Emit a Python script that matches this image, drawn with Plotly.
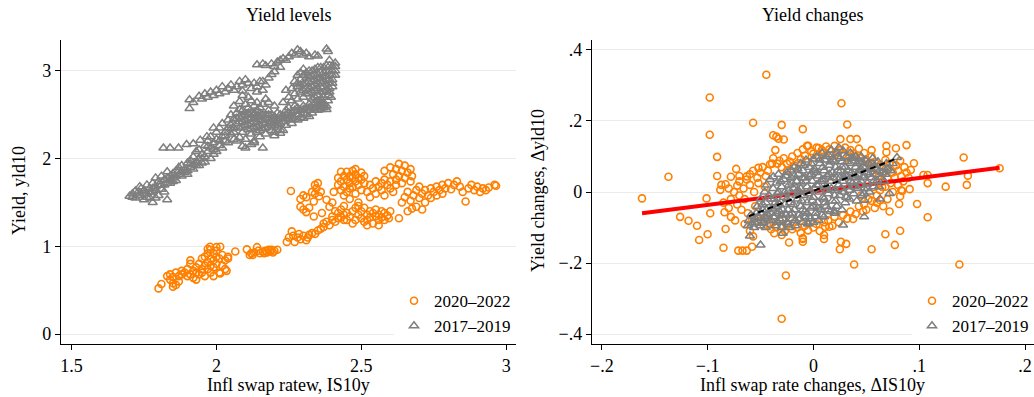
import plotly.graph_objects as go

# ---------------- Data ----------------
# Left panel: yield level vs inflation swap rate
levels_2017_2019 = [
    (1.70,1.57),(1.71,1.60),(1.72,1.55),(1.73,1.62),(1.735,1.68),(1.74,1.58),(1.75,1.64),(1.75,1.53),
    (1.76,1.70),(1.76,1.60),(1.77,1.66),(1.77,1.55),(1.78,1.72),(1.78,1.62),(1.79,1.78),(1.79,1.68),
    (1.80,1.58),(1.80,1.74),(1.81,1.65),(1.81,1.80),(1.82,1.70),(1.82,1.76),(1.83,1.85),(1.83,1.53),
    (1.83,1.72),(1.84,1.80),(1.84,1.76),(1.85,1.83),(1.85,1.78),(1.86,1.86),(1.86,1.80),(1.87,1.90),
    (1.87,1.82),(1.88,1.85),(1.88,1.92),(1.89,1.88),(1.90,1.95),(1.90,1.86),(1.91,1.90),(1.91,1.98),
    (1.92,1.93),(1.92,2.02),(1.93,1.96),(1.93,2.08),(1.94,2.00),(1.94,2.10),(1.95,2.05),(1.95,1.95),
    (1.96,2.15),(1.96,2.02),(1.97,2.20),(1.97,2.08),(1.98,2.12),(1.98,2.25),(1.99,2.05),(1.99,2.18),
    (2.00,2.22),(2.00,2.30),(2.01,2.15),(2.01,2.35),(2.02,2.25),(2.02,2.40),(2.03,2.30),(2.03,2.20),
    (2.04,2.44),(2.04,2.35),(2.05,2.50),(2.05,2.28),(1.78,1.50),(1.79,1.55),
    (1.72,1.63),(1.74,1.66),(1.76,1.56),(1.78,1.66),(1.80,1.70),(1.82,1.62),(1.84,1.72),(1.86,1.75),
    (1.88,1.80),(1.90,1.82),(1.92,1.88),(1.94,1.92),(1.96,1.96),(1.98,2.00),(2.00,2.08),(2.02,2.12),
    (2.04,2.18),(2.06,2.22),
    (1.71,1.56),(1.73,1.58),(1.75,1.60),(1.77,1.62),(1.79,1.64),(1.81,1.70),(1.83,1.78),(1.85,1.74),
    (1.87,1.86),(1.89,1.84),(1.91,1.94),(1.93,1.92),(1.95,2.00),(1.97,2.14),(1.99,2.10),(2.01,2.20),
    (2.03,2.26),(2.05,2.34),
    (1.817,2.12),(1.84,2.12),(1.869,2.12),(1.897,2.16),(1.92,2.17),(1.944,2.21),(1.967,2.25),(1.99,2.35),
    (2.05,2.38),(2.06,2.45),(2.06,2.30),(2.07,2.52),(2.07,2.40),(2.08,2.35),(2.08,2.48),(2.08,2.56),
    (2.09,2.42),(2.09,2.30),(2.10,2.50),(2.10,2.38),(2.10,2.22),(2.11,2.45),(2.11,2.33),(2.11,2.58),
    (2.12,2.40),(2.12,2.28),(2.12,2.52),(2.13,2.36),(2.13,2.46),(2.13,2.18),(2.14,2.42),(2.14,2.30),
    (2.14,2.55),(2.15,2.38),(2.15,2.48),(2.15,2.25),(2.16,2.44),(2.16,2.34),(2.16,2.12),(2.17,2.40),
    (2.17,2.50),(2.17,2.28),(2.18,2.45),(2.18,2.36),(2.18,2.55),(2.19,2.42),(2.19,2.32),(2.20,2.48),
    (2.20,2.38),(2.20,2.26),(2.21,2.44),(2.21,2.52),(2.22,2.40),(2.22,2.33),(2.23,2.48),(2.23,2.42),
    (2.24,2.55),(2.24,2.38),(2.25,2.45),(2.25,2.52),(2.26,2.48),(2.26,2.40),(2.27,2.55),(2.27,2.45),
    (2.28,2.50),(2.28,2.58),(2.29,2.47),(2.29,2.55),(2.30,2.52),(2.30,2.60),(2.31,2.50),(2.31,2.58),
    (2.32,2.55),(2.32,2.62),(2.33,2.52),(2.34,2.58),(2.35,2.60),(2.36,2.56),(2.36,2.62),(2.37,2.58),
    (2.38,2.60),(2.09,2.14),(2.10,2.12),(2.12,2.16),(2.13,2.20),(2.07,2.20),(2.08,2.24),(2.20,2.30),
    (2.22,2.29),(2.23,2.32),(2.21,2.36),(2.24,2.46),(2.26,2.52),(2.28,2.44),(2.30,2.46),(2.32,2.48),
    (2.33,2.58),(2.35,2.55),(2.36,2.59),(2.25,2.58),(2.27,2.60),
    (2.15,2.32),(2.17,2.35),(2.19,2.50),(2.22,2.46),(2.24,2.50),(2.09,2.55),(2.11,2.52),(2.13,2.50),
    (2.15,2.52),
    (2.06,2.35),(2.07,2.46),(2.08,2.42),(2.09,2.36),(2.09,2.48),(2.10,2.44),(2.11,2.39),(2.11,2.50),
    (2.12,2.46),(2.12,2.34),(2.13,2.42),(2.13,2.52),(2.14,2.48),(2.14,2.36),(2.15,2.44),(2.16,2.40),
    (2.16,2.50),(2.17,2.46),(2.18,2.40),(2.18,2.50),(2.19,2.46),(2.19,2.38),(2.20,2.44),(2.21,2.40),
    (2.22,2.50),(2.23,2.45),(2.25,2.48),(2.26,2.44),(2.28,2.54),(2.30,2.56),(2.32,2.58),(2.34,2.55),
    (2.06,2.60),(2.08,2.65),(2.10,2.62),(2.11,2.70),(2.12,2.66),(2.13,2.60),(2.09,2.72),(2.14,2.64),
    (2.15,2.58),(2.16,2.62),(2.17,2.68),(2.18,2.64),(2.20,2.60),(2.09,2.77),
    (1.907,2.57),(1.907,2.67),(1.92,2.64),(1.94,2.71),(1.95,2.68),(1.96,2.74),(1.97,2.70),(1.98,2.76),
    (1.99,2.72),(2.00,2.78),(2.01,2.74),(2.02,2.82),(2.03,2.76),(2.04,2.80),(2.05,2.84),(2.06,2.78),
    (2.07,2.82),(2.08,2.88),(2.09,2.84),(2.10,2.90),(2.11,2.86),(2.12,2.80),(2.13,2.86),(2.14,2.82),
    (2.15,2.88),(2.16,2.88),(2.17,2.84),(2.18,2.92),(2.19,2.96),(2.20,2.99),(2.14,2.76),(2.16,2.78),
    (2.14,3.07),(2.16,3.08),(2.17,3.06),(2.19,3.08),(2.21,3.10),(2.22,3.12),(2.23,3.14),(2.24,3.12),
    (2.25,3.16),(2.26,3.20),(2.27,3.18),(2.28,3.24),(2.29,3.22),(2.30,3.18),(2.31,3.20),(2.32,3.16),
    (2.34,3.18),(2.35,3.17),(2.38,3.25),(2.385,3.22),(2.39,3.12),(2.20,3.05),(2.22,3.04),
    (2.27,2.88),(2.28,2.95),(2.28,2.82),(2.29,2.90),(2.29,2.76),(2.30,2.85),(2.30,2.95),(2.30,2.70),
    (2.31,2.80),(2.31,2.92),(2.32,2.88),(2.32,2.74),(2.32,3.00),(2.33,2.82),(2.33,2.94),(2.33,2.68),
    (2.34,2.90),(2.34,2.78),(2.34,3.02),(2.35,2.86),(2.35,2.96),(2.35,2.72),(2.36,2.92),(2.36,2.82),
    (2.36,3.04),(2.37,2.88),(2.37,2.98),(2.37,2.76),(2.38,2.94),(2.38,2.85),(2.38,3.06),(2.39,2.90),
    (2.39,3.00),(2.39,2.80),(2.40,2.95),(2.40,3.05),(2.40,2.86),(2.41,3.00),(2.41,3.09),(2.395,2.70),
    (2.385,2.66),(2.23,2.64),(2.25,2.70),(2.26,2.66),(2.27,2.74),(2.24,2.78),(2.26,2.80),(2.28,2.68),
    (2.37,2.62),(2.38,2.56),(2.36,2.64),
    (2.28,2.86),(2.29,2.98),(2.29,2.84),(2.30,2.78),(2.30,3.02),(2.31,2.86),(2.31,2.74),(2.31,2.98),
    (2.32,2.94),(2.32,2.80),(2.33,2.88),(2.33,3.00),(2.33,2.76),(2.34,2.84),(2.34,2.96),(2.34,2.70),
    (2.35,2.80),(2.35,2.92),(2.35,3.04),(2.36,2.88),(2.36,2.76),(2.36,2.98),(2.37,2.82),(2.37,2.94),
    (2.37,3.04),(2.38,2.90),(2.38,2.78),(2.38,3.00),(2.39,2.86),(2.39,2.96),(2.39,3.06),(2.40,2.90),
    (2.40,3.00),(2.40,2.82),(2.41,2.95),(2.41,3.05),(2.385,2.72),(2.39,2.76),(2.37,2.70),(2.36,2.68),
    (2.35,2.66),(2.34,2.64),
]

levels_2020_2022 = [
    (1.80,0.52),(1.81,0.57),(1.83,0.66),(1.84,0.62),(1.84,0.68),(1.85,0.58),(1.85,0.54),(1.85,0.65),
    (1.86,0.56),(1.86,0.70),(1.87,0.66),(1.88,0.68),(1.88,0.72),(1.89,0.70),(1.90,0.66),(1.90,0.74),
    (1.91,0.68),(1.91,0.80),(1.91,0.84),(1.92,0.72),(1.92,0.64),(1.93,0.70),(1.93,0.76),(1.94,0.68),
    (1.94,0.80),(1.95,0.74),(1.95,0.86),(1.95,0.70),(1.96,0.78),(1.96,0.88),(1.96,0.66),(1.97,0.82),
    (1.97,0.92),(1.97,0.74),(1.97,0.97),(1.98,0.86),(1.98,0.78),(1.98,0.70),(1.99,0.84),(1.99,0.92),
    (1.99,0.76),(2.00,0.88),(2.00,0.80),(2.00,0.99),(2.00,0.95),(2.01,0.86),(2.01,0.70),(2.02,0.90),
    (2.02,0.78),(2.03,0.84),(2.03,0.74),(2.04,0.86),(2.035,0.72),(1.98,0.96),(1.99,0.66),(1.93,0.62),
    (1.87,0.60),(1.978,0.995),(2.013,0.995),(2.04,0.88),(2.013,0.69),
    (2.065,0.94),(2.105,0.965),(2.115,0.90),(2.12,0.92),(2.13,0.93),(2.14,0.99),(2.145,0.95),(2.15,0.92),
    (2.16,0.94),(2.165,0.92),(2.17,0.95),(2.175,0.93),(2.18,0.96),(2.185,0.94),(2.19,0.96),(2.195,0.93),
    (2.20,0.95),(2.21,0.96),(2.125,0.90),
    (2.243,1.05),(2.25,1.10),(2.26,1.17),(2.265,1.12),(2.27,1.05),(2.28,1.10),(2.285,1.14),(2.29,1.08),
    (2.30,1.12),(2.31,1.07),(2.315,1.10),(2.32,1.13),(2.33,1.15),(2.34,1.14),(2.35,1.18),(2.36,1.20),
    (2.37,1.22),(2.37,1.26),(2.38,1.28),(2.39,1.24),(2.40,1.30),(2.40,1.34),(2.41,1.28),(2.42,1.32),
    (2.42,1.38),(2.43,1.33),(2.44,1.36),(2.44,1.30),
    (2.257,1.63),(2.29,1.54),(2.29,1.45),(2.30,1.42),(2.31,1.39),(2.32,1.44),(2.336,1.51),(2.336,1.34),
    (2.34,1.70),(2.354,1.57),(2.364,1.38),(2.345,1.66),(2.35,1.72),(2.36,1.62),(2.30,1.58),(2.31,1.56),
    (2.33,1.62),(2.34,1.60),(2.38,1.53),(2.405,1.62),(2.39,1.45),(2.41,1.40),(2.40,1.50),
    (2.42,1.70),(2.42,1.78),(2.43,1.74),(2.43,1.64),(2.44,1.80),(2.44,1.68),(2.44,1.58),(2.45,1.76),
    (2.45,1.85),(2.45,1.62),(2.46,1.72),(2.46,1.80),(2.46,1.54),(2.47,1.78),(2.47,1.68),(2.47,1.86),
    (2.48,1.74),(2.48,1.82),(2.48,1.60),(2.49,1.70),(2.49,1.78),(2.49,1.50),(2.50,1.76),(2.50,1.84),
    (2.50,1.64),(2.51,1.72),(2.51,1.80),(2.43,1.85),(2.46,1.66),(2.48,1.88),
    (2.43,1.42),(2.44,1.46),(2.45,1.38),(2.46,1.34),(2.47,1.40),(2.48,1.30),(2.48,1.44),(2.49,1.36),
    (2.50,1.32),(2.50,1.40),(2.51,1.28),(2.51,1.44),(2.52,1.36),(2.52,1.30),(2.53,1.40),(2.53,1.33),
    (2.54,1.38),(2.54,1.26),(2.55,1.34),(2.55,1.42),(2.56,1.36),(2.56,1.30),(2.57,1.40),(2.57,1.33),
    (2.58,1.38),(2.58,1.30),(2.59,1.35),(2.60,1.40),(2.595,1.32),(2.45,1.30),(2.47,1.26),(2.52,1.24),
    (2.49,1.46),(2.56,1.24),
    (2.52,1.62),(2.53,1.70),(2.54,1.66),(2.55,1.74),(2.55,1.60),(2.56,1.68),(2.57,1.72),(2.57,1.64),
    (2.58,1.76),(2.58,1.58),(2.59,1.70),(2.60,1.66),(2.60,1.74),(2.61,1.62),(2.62,1.70),(2.53,1.56),
    (2.58,1.86),(2.60,1.90),(2.61,1.82),(2.62,1.88),(2.63,1.94),(2.63,1.80),(2.64,1.86),(2.65,1.92),
    (2.65,1.78),(2.66,1.84),(2.67,1.88),(2.67,1.74),(2.675,1.80),(2.64,1.72),(2.62,1.76),
    (2.63,1.32),(2.675,1.43),(2.64,1.50),(2.65,1.56),(2.66,1.62),(2.67,1.52),(2.68,1.58),(2.69,1.64),
    (2.70,1.55),(2.70,1.68),(2.71,1.60),(2.72,1.64),(2.72,1.50),(2.73,1.58),(2.74,1.66),(2.74,1.55),
    (2.75,1.62),(2.76,1.68),(2.76,1.58),(2.77,1.64),(2.78,1.70),(2.78,1.60),(2.79,1.66),(2.80,1.72),
    (2.81,1.65),(2.82,1.70),(2.83,1.74),(2.84,1.68),(2.85,1.62),(2.86,1.51),(2.87,1.66),(2.88,1.70),
    (2.89,1.64),(2.90,1.68),(2.91,1.62),(2.92,1.66),(2.93,1.64),(2.94,1.67),(2.96,1.70),(2.965,1.69),
    (2.69,1.45),(2.66,1.40),(2.71,1.42),
]

# Right panel: yield changes vs inflation swap rate changes
changes_2020_2022 = [
    (-0.0445,0.330),(-0.098,0.266),(-0.057,0.195),(-0.030,0.189),(-0.010,0.177),(-0.098,0.161),
    (-0.035,0.156),(-0.033,0.150),(-0.038,0.160),(-0.028,0.148),(-0.036,0.118),(-0.091,0.099),
    (-0.137,0.043),(-0.091,0.045),(-0.073,0.065),(-0.078,0.043),(-0.070,0.045),(-0.063,0.044),
    (-0.088,0.006),(-0.083,0.022),(-0.162,-0.018),(-0.101,-0.018),(-0.005,0.130),(0.005,0.124),
    (-0.038,0.095),(-0.032,0.088),(-0.039,0.080),(-0.034,0.080),(-0.025,0.080),(-0.052,0.068),
    (-0.0145,0.081),(0.0265,0.250),(0.032,0.190),(0.0255,0.149),(0.035,0.149),(0.041,0.149),
    (0.088,0.132),(0.069,0.130),(0.078,0.123),(0.095,0.081),(0.142,0.097),(0.146,0.046),
    (0.145,0.020),(0.176,0.067),(0.108,0.025),(0.104,0.048),(0.108,0.048),(0.125,0.015),
    (0.091,0.008),(0.083,0.005),(0.055,0.118),(0.069,0.112),(-0.006,0.130),
    (-0.126,-0.070),(-0.118,-0.081),(-0.110,-0.095),(-0.108,-0.135),(-0.100,-0.119),(-0.0975,-0.060),
    (-0.085,-0.157),(-0.083,-0.104),(-0.084,-0.057),(-0.078,-0.070),(-0.074,-0.080),(-0.071,-0.165),
    (-0.067,-0.165),(-0.063,-0.165),(-0.058,-0.154),(-0.065,-0.090),(-0.060,-0.110),(-0.057,-0.125),
    (-0.026,-0.235),(-0.030,-0.357),(-0.023,-0.142),(-0.037,-0.116),(-0.030,-0.121),(-0.010,-0.130),
    (-0.010,-0.140),(-0.087,0.020),(-0.080,0.010),(-0.072,0.018),(-0.070,-0.010),
    (0.0385,-0.204),(0.138,-0.204),(0.055,-0.161),(0.077,-0.149),(0.082,-0.109),(0.068,-0.119),
    (0.108,-0.071),(0.098,-0.034),(0.084,0.003),(0.082,-0.012),(0.081,-0.034),(0.072,-0.055),
    (0.025,-0.161),(0.026,-0.140),(0.031,-0.146),(0.010,-0.121),(0.010,-0.132),(-0.010,-0.132),
    (0.011,-0.098),(0.015,-0.098),(0.0375,-0.076),(0.047,-0.055),(0.050,-0.050),(0.063,-0.023),
    (0.055,-0.025),(0.060,-0.030),(0.057,0.014),(0.065,0.014),
    (-0.085,-0.030),(-0.080,-0.045),(-0.078,-0.020),(-0.075,0.000),(-0.072,-0.035),(-0.070,0.030),
    (-0.068,-0.050),(-0.066,0.010),(-0.065,-0.020),(-0.063,0.035),(-0.062,-0.060),(-0.060,0.050),
    (-0.060,0.020),(-0.058,-0.075),(-0.057,0.060),(-0.056,0.000),(-0.055,-0.040),(-0.053,0.040),
    (-0.052,0.025),(-0.050,-0.080),(-0.050,0.055),(-0.048,0.070),(-0.047,-0.095),(-0.046,0.015),
    (-0.045,0.045),(-0.044,-0.065),(-0.043,0.060),(-0.042,-0.090),(-0.041,0.078),(-0.040,-0.105),
    (-0.030,0.070),(-0.028,0.095),(-0.025,0.060),(-0.022,0.085),(-0.020,0.100),(-0.018,0.075),
    (-0.015,0.110),(-0.012,0.092),(-0.010,0.120),(-0.008,0.102),(-0.005,0.085),(-0.002,0.115),
    (0.000,0.108),(0.003,0.125),(0.005,0.098),(0.008,0.118),(0.010,0.110),(0.012,0.128),
    (0.015,0.120),(0.018,0.102),(0.020,0.130),(0.022,0.112),(0.025,0.118),(0.028,0.105),
    (0.030,0.125),(0.033,0.095),(0.035,0.118),(0.038,0.108),(0.040,0.100),(0.043,0.122),
    (0.045,0.095),(0.048,0.110),(0.050,0.090),(0.052,0.080),(0.055,0.100),
    (0.055,0.070),(0.058,0.085),(0.060,0.060),(0.062,0.045),(0.063,0.075),(0.065,0.030),
    (0.066,0.055),(0.068,0.090),(0.068,0.015),(0.070,0.065),(0.070,0.040),(0.072,0.080),
    (0.073,0.025),(0.075,0.055),(0.075,0.000),(0.077,0.040),(0.078,0.075),(0.080,0.060),
    (0.080,0.020),(0.082,0.088),(0.083,0.045),(0.085,0.030),(0.086,0.070),(0.088,0.055),
    (0.090,0.040),(0.092,0.062),(0.060,-0.010),(0.063,0.005),(0.070,-0.020),(0.066,-0.040),
    (0.058,-0.045),
    (-0.038,-0.085),(-0.035,-0.100),(-0.032,-0.080),(-0.030,-0.095),(-0.027,-0.110),(-0.024,-0.090),
    (-0.020,-0.105),(-0.018,-0.085),(-0.015,-0.100),(-0.012,-0.115),(-0.008,-0.095),(-0.005,-0.108),
    (0.000,-0.100),(0.003,-0.090),(0.006,-0.110),(0.010,-0.085),(0.014,-0.080),(0.018,-0.095),
    (0.020,-0.070),(0.024,-0.085),(0.028,-0.065),(0.032,-0.075),(0.035,-0.055),(0.040,-0.062),
    (0.043,-0.040),(0.048,-0.035),(0.052,-0.020),(0.045,-0.010),
]

changes_2017_2019 = [
    (-0.062,-0.095),(-0.061,-0.080),(-0.060,-0.124),(-0.059,-0.065),
    (-0.056,-0.100),(-0.055,-0.085),(-0.054,-0.060),(-0.053,-0.040),(-0.052,-0.072),(-0.050,-0.149),
    (-0.050,-0.020),(-0.050,-0.095),
    (-0.048,-0.050),(-0.047,-0.085),(-0.046,0.000),(-0.045,-0.030),(-0.045,-0.100),(-0.044,0.020),
    (-0.043,-0.065),(-0.042,-0.010),(-0.041,0.035),(-0.048,-0.088),
    (-0.040,-0.080),(-0.039,-0.045),(-0.038,0.043),(-0.038,0.010),(-0.037,-0.020),(-0.036,-0.095),
    (-0.035,-0.060),(-0.035,0.025),(-0.034,-0.005),
    (-0.033,0.050),(-0.032,-0.035),(-0.031,-0.080),(-0.030,0.015),(-0.030,-0.100),(-0.029,-0.050),
    (-0.028,0.035),(-0.028,-0.015),(-0.027,0.000),(-0.026,-0.065),(-0.025,0.055),(-0.029,-0.116),
    (-0.024,-0.090),(-0.023,0.020),(-0.022,-0.030),(-0.021,0.062),(-0.021,0.040),(-0.020,-0.075),
    (-0.020,-0.005),(-0.019,0.010),(-0.018,-0.050),(-0.018,0.070),(-0.017,-0.095),(-0.016,0.030),
    (-0.023,-0.100),
    (-0.015,-0.020),(-0.014,0.050),(-0.014,-0.065),(-0.013,0.000),(-0.012,0.080),(-0.012,-0.040),
    (-0.011,0.025),(-0.010,-0.085),(-0.010,0.060),(-0.009,-0.010),(-0.008,0.040),(-0.008,-0.055),
    (-0.007,0.090),(-0.006,0.015),(-0.006,-0.030),(-0.005,-0.090),(-0.004,0.070),(-0.004,-0.070),
    (-0.003,0.005),(-0.002,0.050),(-0.002,-0.045),(-0.001,0.030),(0.000,0.093),(0.000,-0.015),
    (0.000,-0.085),
    (0.001,0.065),(0.002,-0.060),(0.003,0.020),(0.003,0.100),(0.004,-0.030),(0.005,0.045),
    (0.005,-0.080),(0.006,0.080),(0.006,0.000),(0.007,-0.050),(0.008,0.035),(0.008,0.110),
    (0.009,-0.015),(0.010,0.060),(0.010,-0.070),(0.011,0.090),(0.012,0.015),(0.012,-0.040),
    (0.013,0.045),(0.014,0.105),(0.014,-0.005),(0.015,0.075),(0.016,-0.055),(0.016,0.030),
    (0.017,0.118),(0.018,0.055),(0.018,-0.025),(0.019,0.090),(0.020,0.005),(0.020,-0.060),
    (0.021,0.070),(0.022,0.040),(0.022,-0.040),(0.023,0.100),(0.024,0.020),(0.024,0.125),
    (0.025,-0.010),(0.026,0.060),(0.027,0.085),(0.027,-0.050),(0.028,0.116),(0.028,0.030),
    (0.029,0.000),(0.030,0.070),(0.030,-0.030),(0.031,0.100),(0.032,0.045),(0.033,0.015),
    (0.034,-0.020),(0.035,0.080),(0.035,0.110),(0.036,0.055),(0.037,0.025),(0.038,-0.005),
    (0.038,0.095),(0.039,0.040),(0.040,0.070),(0.040,0.100),(0.041,-0.025),(0.042,0.010),
    (0.043,0.060),(0.044,0.085),(0.045,0.030),(0.045,0.100),(0.046,-0.010),(0.047,0.070),
    (0.048,0.045),(0.048,0.010),(0.048,-0.004),(0.048,-0.023),(0.049,0.090),(0.050,0.055),
    (0.051,0.025),(0.052,0.080),(0.053,0.000),(0.054,0.065),(0.055,0.040),(0.056,0.095),
    (0.057,0.015),(0.058,0.075),(0.059,0.050),(0.060,0.030),(0.061,0.085),(0.062,0.060),
    (0.063,-0.020),(0.064,0.040),(0.066,0.070),(0.068,0.050),(0.070,0.065),(0.072,-0.004),
    (0.075,0.080),(0.079,0.097),(0.048,-0.070),(0.028,-0.093),(0.020,-0.055),(-0.005,-0.088),
    (-0.040,-0.060),(-0.035,-0.040),(-0.030,-0.065),(-0.025,-0.020),(-0.020,0.025),(-0.015,0.005),
    (-0.010,0.040),(-0.005,-0.005),(0.000,0.060),(0.005,0.020),(0.010,0.035),(0.015,0.050),
    (0.020,0.085),(0.025,0.040),(0.030,0.050),(0.035,0.030),(0.040,0.045),(0.045,0.065),
    (-0.010,-0.050),(0.000,-0.040),(0.010,-0.020),(0.020,-0.010),(-0.020,-0.060),(-0.045,-0.075),
    (-0.055,-0.075),
    (-0.058,-0.090),(-0.056,-0.070),(-0.052,-0.085),(-0.050,-0.060),(-0.048,-0.035),(-0.046,-0.070),
    (-0.044,-0.050),(-0.042,-0.080),(-0.040,-0.020),(-0.038,-0.070),(-0.036,-0.030),(-0.034,-0.085),
    (-0.033,0.000),(-0.032,-0.055),(-0.031,0.030),(-0.029,-0.075),(-0.027,-0.035),(-0.026,0.045),
    (-0.025,-0.085),(-0.024,-0.050),(-0.023,0.005),(-0.022,-0.065),(-0.019,-0.035),(-0.018,0.045),
    (-0.017,-0.080),(-0.016,-0.010),(-0.015,0.065),(-0.013,-0.075),(-0.012,0.010),(-0.011,-0.025),
    (-0.009,0.075),(-0.008,-0.070),(-0.007,0.030),(-0.006,-0.060),(-0.004,0.045),(-0.003,-0.075),
    (-0.002,0.080),(-0.001,-0.025),(0.001,0.010),(0.002,-0.070),(0.003,0.055),(0.004,-0.045),
    (0.006,0.090),(0.007,0.030),(0.008,-0.065),(0.009,0.070),(0.011,-0.030),(0.012,0.100),
    (0.013,0.005),(0.014,-0.050),(0.016,0.085),(0.017,0.010),(0.019,0.040),(0.021,-0.025),
    (0.022,0.110),(0.023,0.060),(0.025,0.095),(0.026,0.010),(0.027,0.070),(0.029,0.040),
    (0.031,-0.015),(0.032,0.085),(0.033,0.060),(0.034,0.005),(0.036,0.095),(0.037,0.040),
    (0.039,0.015),(0.041,0.080),(0.042,0.050),(0.044,0.020),(0.046,0.085),(0.047,0.040),
    (0.049,0.070),(0.051,0.010),(0.053,0.050),(0.055,0.080),(0.057,0.030),(0.059,0.065),
    (0.062,0.015),(0.065,0.055),(0.067,0.030),(0.069,0.080),(0.073,0.060),
]

# Fitted lines (endpoints)
fit_2020_x = [-0.162, 0.176]
fit_2020_y = [-0.060, 0.068]
fit_2017_x = [-0.061, 0.080]
fit_2017_y = [-0.068, 0.096]

# Axis ticks
lev_xticks = [1.5, 2, 2.5, 3]
lev_xtext = ["1.5", "2", "2.5", "3"]
lev_yticks = [0, 1, 2, 3]
lev_ytext = ["0", "1", "2", "3"]
chg_xticks = [-0.2, -0.1, 0, 0.1, 0.2]
chg_xtext = ["\u2212.2", "\u2212.1", "0", ".1", ".2"]
chg_yticks = [-0.4, -0.2, 0, 0.2, 0.4]
chg_ytext = ["\u2212.4", "\u2212.2", "0", ".2", ".4"]

series_names = ["2020\u20132022", "2017\u20132019"]

# ---------------- Styling ----------------
FONT = "Liberation Serif"
ORANGE = "#ff8000"
GRAY = "#7f7f7f"
W, H = 1034, 397

def unzip(pairs):
    return [p[0] for p in pairs], [p[1] for p in pairs]

circ = dict(symbol="circle-open", size=7, color=ORANGE, line=dict(width=1.6, color=ORANGE))
tri = dict(symbol="triangle-up-open", size=8, color=GRAY, line=dict(width=1.5, color=GRAY))

fig = go.Figure()

lx, ly = unzip(levels_2020_2022)
fig.add_trace(go.Scatter(x=lx, y=ly, mode="markers", marker=circ, name=series_names[0],
                         xaxis="x", yaxis="y", legend="legend"))
lx, ly = unzip(levels_2017_2019)
fig.add_trace(go.Scatter(x=lx, y=ly, mode="markers", marker=tri, name=series_names[1],
                         xaxis="x", yaxis="y", legend="legend"))

cx, cy = unzip(changes_2020_2022)
fig.add_trace(go.Scatter(x=cx, y=cy, mode="markers", marker=circ, name=series_names[0],
                         xaxis="x2", yaxis="y2", legend="legend2"))
fig.add_trace(go.Scatter(x=fit_2020_x, y=fit_2020_y, mode="lines", line=dict(color="#ff0000", width=4),
                         xaxis="x2", yaxis="y2", showlegend=False))
cx, cy = unzip(changes_2017_2019)
fig.add_trace(go.Scatter(x=cx, y=cy, mode="markers", marker=tri, name=series_names[1],
                         xaxis="x2", yaxis="y2", legend="legend2"))
fig.add_trace(go.Scatter(x=fit_2017_x, y=fit_2017_y, mode="lines",
                         line=dict(color="black", width=2, dash="6px,4px"),
                         xaxis="x2", yaxis="y2", showlegend=False))

axis_common = dict(showline=True, linecolor="black", linewidth=1, ticks="outside", ticklen=5,
                   tickcolor="black", tickfont=dict(family=FONT, size=18, color="black"),
                   zeroline=False, mirror=False)

L_T, L_B = 40, 53
fig.update_layout(
    width=W, height=H,
    margin=dict(l=0, r=0, t=L_T, b=L_B),
    paper_bgcolor="white", plot_bgcolor="white",
    font=dict(family=FONT, size=18, color="black"),
    xaxis=dict(domain=[59 / W, 515 / W], range=[1.463, 3.034], tickvals=lev_xticks, ticktext=lev_xtext,
               showgrid=False, anchor="y", **axis_common),
    yaxis=dict(domain=[0, 1], range=[-0.114, 3.352], tickvals=lev_yticks, ticktext=lev_ytext,
               showgrid=True, gridcolor="#ebebeb", gridwidth=1, anchor="x", **axis_common),
    xaxis2=dict(domain=[591 / W, 1.0], range=[-0.2094, 0.2085], tickvals=chg_xticks, ticktext=chg_xtext,
                showgrid=False, anchor="y2", **axis_common),
    yaxis2=dict(domain=[0, 1], range=[-0.428, 0.428], tickvals=chg_yticks, ticktext=chg_ytext,
                showgrid=True, gridcolor="#ebebeb", gridwidth=1, anchor="x2", **axis_common),
    legend=dict(x=515 / W, xanchor="right", y=0.2, yanchor="top", bgcolor="white", borderwidth=0,
                font=dict(family=FONT, size=17, color="black"), itemwidth=30, tracegroupgap=0),
    legend2=dict(x=1.0, xanchor="right", y=0.2, yanchor="top", bgcolor="white", borderwidth=0,
                 font=dict(family=FONT, size=17, color="black"), itemwidth=30, tracegroupgap=0),
    showlegend=True,
)

def ypaper(py):
    return (H - L_B - py) / (H - L_T - L_B)

ann = [
    dict(text="Yield levels", x=287 / W, y=ypaper(15), size=18, angle=0),
    dict(text="Yield changes", x=812 / W, y=ypaper(15), size=18, angle=0),
    dict(text="Infl swap ratew, IS10y", x=287 / W, y=ypaper(385), size=18, angle=0),
    dict(text="Infl swap rate changes, \u0394IS10y", x=812 / W, y=ypaper(385), size=18, angle=0),
    dict(text="Yield, yld10", x=17 / W, y=ypaper(190), size=18, angle=-90),
    dict(text="Yield changes, \u0394yld10", x=537 / W, y=ypaper(190), size=18, angle=-90),
]
for a in ann:
    fig.add_annotation(text=a["text"], x=a["x"], y=a["y"], xref="paper", yref="paper",
                       xanchor="center", yanchor="middle", showarrow=False, textangle=a["angle"],
                       font=dict(family=FONT, size=a["size"], color="black"))

fig.write_html("out.html", config={"displayModeBar": False},
               post_script="document.body.style.margin='0px';")
